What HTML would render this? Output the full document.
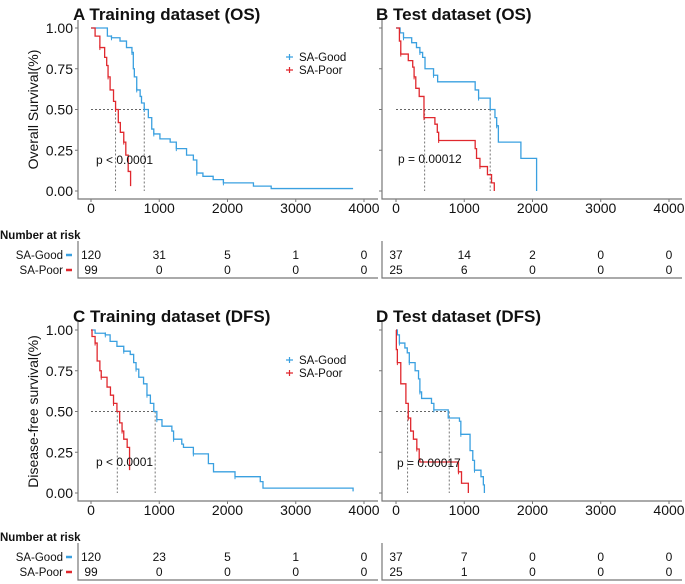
<!DOCTYPE html>
<html><head><meta charset="utf-8"><style>
html,body{margin:0;padding:0;background:#fff;}
svg{display:block;font-family:"Liberation Sans",Arial,sans-serif;}
</style></head><body>
<svg id="c" width="685" height="584" viewBox="0 0 685 584" xmlns="http://www.w3.org/2000/svg"></svg>
<script>
// ---- data ----
const xTicks = [0, 1000, 2000, 3000, 4000];
const yTicks = [0, 0.25, 0.5, 0.75, 1];
const yTickLabels = ["0.00", "0.25", "0.50", "0.75", "1.00"];
const groups = ["SA-Good", "SA-Poor"];
// Panel A (Training OS)
const aGoodT = [0,240,300,425,520,600,620,635,670,720,740,780,840,890,920,1010,1160,1250,1400,1500,1550,1640,1790,1940,2380,2640,3840];
const aGoodS = [1,0.95,0.94,0.92,0.88,0.85,0.75,0.70,0.62,0.58,0.54,0.50,0.45,0.38,0.35,0.32,0.30,0.26,0.22,0.19,0.11,0.09,0.07,0.05,0.03,0.015,0.015];
const aPoorT = [0,60,130,200,230,250,280,330,360,400,430,480,510,545,580];
const aPoorS = [1,0.95,0.88,0.82,0.77,0.70,0.62,0.55,0.50,0.42,0.36,0.30,0.22,0.12,0.03];
// Panel B (Test OS)
const bGoodT = [0,60,110,230,300,350,390,425,550,610,1160,1210,1380,1450,1475,1500,1830,2060];
const bGoodS = [1,0.97,0.94,0.91,0.88,0.85,0.82,0.75,0.71,0.67,0.62,0.57,0.50,0.45,0.40,0.30,0.20,0];
const bPoorT = [0,50,70,180,245,265,290,340,410,570,605,625,1160,1180,1230,1340,1400,1440];
const bPoorS = [1,0.92,0.84,0.80,0.76,0.70,0.63,0.58,0.45,0.41,0.36,0.31,0.26,0.20,0.15,0.10,0.05,0];
// Panel C (Training DFS)
const cGoodT = [0,60,210,280,380,480,575,625,660,700,770,820,870,920,965,1040,1185,1210,1330,1355,1500,1720,1795,2110,2480,2520,3840];
const cGoodS = [1,0.98,0.97,0.93,0.90,0.87,0.85,0.80,0.76,0.71,0.67,0.60,0.55,0.50,0.45,0.41,0.38,0.33,0.30,0.28,0.24,0.18,0.13,0.10,0.07,0.03,0.01];
const cPoorT = [0,15,60,90,130,150,235,285,330,380,420,455,480,530,565];
const cPoorS = [1,0.96,0.92,0.81,0.75,0.71,0.65,0.60,0.55,0.50,0.43,0.38,0.33,0.28,0.14];
// Panel D (Test DFS)
const dGoodT = [0,20,50,130,165,195,280,330,350,375,520,555,765,930,950,1085,1125,1150,1245,1280,1295];
const dGoodS = [1,0.97,0.92,0.89,0.86,0.80,0.75,0.70,0.62,0.58,0.55,0.51,0.46,0.44,0.36,0.26,0.20,0.14,0.10,0.05,0];
const dPoorT = [0,5,20,70,145,180,215,255,305,340,350,915,960,1060];
const dPoorS = [1,0.88,0.80,0.67,0.55,0.46,0.38,0.33,0.27,0.21,0.19,0.13,0.06,0];
const riskA = [[120,31,5,1,0],[99,0,0,0,0]];
const riskB = [[37,14,2,0,0],[25,6,0,0,0]];
const riskC = [[120,23,5,1,0],[99,0,0,0,0]];
const riskD = [[37,7,0,0,0],[25,1,0,0,0]];
const medA = [780,360], medB = [1380,420], medC = [940,385], medD = [780,170];

const NS = "http://www.w3.org/2000/svg";
const svg = document.getElementById('c');
function el(tag, attrs, parent, text){
  const e = document.createElementNS(NS, tag);
  for (const k in attrs) e.setAttribute(k, attrs[k]);
  if (text !== undefined) e.textContent = text;
  (parent||svg).appendChild(e);
  return e;
}
const BLUE = "#3aa0e0", RED = "#e0282e";

function panel(o){
  const g = el('g', {});
  
  
  const x = t => o.x0 + t/4000*(o.x1 - o.x0);
  const y = s => o.y0 - s*(o.y0 - o.y1);
  // title
  const t = el('text', {x:o.titleX, y:o.y1-8, 'font-size':17, 'font-weight':'bold', fill:'#111'}, g, o.title);
  
  
  // axes
  const ax = el('path', {d:`M${o.axL},${o.y1-8}V${o.axB}H${o.axL+300}`, stroke:'#777', 'stroke-width':1.2, fill:'none'}, g);
  
  
  yTicks.forEach((v,i)=>{
    el('line', {x1:o.axL-3, x2:o.axL, y1:y(v), y2:y(v), stroke:'#777'}, g);
    if (o.yLabels){
      const l = el('text', {x:o.axL-5, y:y(v)+5, 'text-anchor':'end', 'font-size':14, fill:'#111'}, g, yTickLabels[i]);
      
      
    }
  });
  xTicks.forEach(v=>{
    el('line', {x1:x(v), x2:x(v), y1:o.axB, y2:o.axB+3, stroke:'#777'}, g);
    const l = el('text', {x:x(v), y:o.axB+14, 'text-anchor':'middle', 'font-size':14, fill:'#111'}, g, String(v));
    
    
  });
  if (o.yTitle){
    const yt = el('text', {x:0, y:0, transform:`translate(${o.axL-40},${(o.y0+o.y1)/2}) rotate(-90)`, 'text-anchor':'middle', 'font-size':14, fill:'#111'}, g, o.yTitle);
    
    
  }
  // median lines
  const ym = y(0.5);
  const mx = Math.max(o.med[0], o.med[1]);
  el('path', {d:`M${x(0)},${ym}H${x(mx)}M${x(o.med[0])},${ym}V${y(0)}M${x(o.med[1])},${ym}V${y(0)}`, stroke:'#666', 'stroke-dasharray':'2,2', 'stroke-width':0.9, fill:'none'}, g);
  // curves
  [[o.gT,o.gS,BLUE,'curve-sa-good'],[o.pT,o.pS,RED,'curve-sa-poor']].forEach(([T,S,c,n])=>{
    let d = `M${x(T[0])},${y(S[0])}`;
    for (let i=1;i<T.length;i++){ d += `H${x(T[i])}V${y(S[i])}`; }
    const p = el('path', {d, stroke:c, 'stroke-width':1.3, fill:'none'}, g);
    
    
    // censor ticks at a few steps
    for (let i=2;i<T.length-1;i+=3){
      el('path', {d:`M${x(T[i])},${y(S[i])-2.5}v5`, stroke:c, 'stroke-width':1}, g);
    }
  });
  // p value
  const pv = el('text', {x:o.pX, y:o.pY, 'font-size':12, fill:'#111'}, g, o.p);
  
  
  // legend
  if (o.legendY){
    groups.forEach((gname,i)=>{
      const c = i===0?BLUE:RED;
      const ly = o.legendY + i*13;
      el('path', {d:`M286,${ly}h7M289.5,${ly-3}v6`, stroke:c, 'stroke-width':1.2}, g);
      const lt = el('text', {x:299, y:ly+4, 'font-size':11.5, fill:'#111'}, g, gname);
      
      
    });
  }
  // risk table
  const tb = el('path', {d:`M${o.axL},${o.rY-14}V${o.rY+23}H${o.axL+300}`, stroke:'#777', 'stroke-width':1.2, fill:'none'}, g);
  
  if (o.riskHeader){
    const h = el('text', {x:0, y:o.rY-16, 'font-size':11.5, 'font-weight':'bold', fill:'#111'}, g, 'Number at risk');
    
    
    groups.forEach((gname,i)=>{
      const ry = o.rY + i*15;
      const lt = el('text', {x:63, y:ry+4, 'text-anchor':'end', 'font-size':11.5, fill:'#111'}, g, gname);
      
      
      el('line', {x1:66, x2:72, y1:ry, y2:ry, stroke:i===0?BLUE:RED, 'stroke-width':2.5}, g);
    });
  }
  o.risk.forEach((row,i)=>{
    row.forEach((v,j)=>{
      const rt = el('text', {x:x(xTicks[j]), y:o.rY+i*15+4, 'text-anchor':'middle', 'font-size':12, fill:'#111'}, g, String(v));
      
      
    });
  });
}

panel({name:'panel-a-training-os', title:'A Training dataset (OS)', titleX:73, x0:91, x1:364, y1:28, y0:191, axL:78, axB:199,
  yLabels:true, yTitle:'Overall Survival(%)', gT:aGoodT, gS:aGoodS, pT:aPoorT, pS:aPoorS, med:medA,
  p:'p < 0.0001', pX:96, pY:164, legendY:57, risk:riskA, rY:255, riskHeader:true});
panel({name:'panel-b-test-os', title:'B Test dataset (OS)', titleX:376, x0:396, x1:669, y1:28, y0:191, axL:382, axB:199,
  yLabels:false, gT:bGoodT, gS:bGoodS, pT:bPoorT, pS:bPoorS, med:medB,
  p:'p = 0.00012', pX:398, pY:163, risk:riskB, rY:255});
panel({name:'panel-c-training-dfs', title:'C Training dataset (DFS)', titleX:73, x0:91, x1:364, y1:330, y0:493, axL:78, axB:501,
  yLabels:true, yTitle:'Disease-free survival(%)', gT:cGoodT, gS:cGoodS, pT:cPoorT, pS:cPoorS, med:medC,
  p:'p < 0.0001', pX:96, pY:466, legendY:360, risk:riskC, rY:557, riskHeader:true});
panel({name:'panel-d-test-dfs', title:'D Test dataset (DFS)', titleX:376, x0:396, x1:669, y1:330, y0:493, axL:382, axB:501,
  yLabels:false, gT:dGoodT, gS:dGoodS, pT:dPoorT, pS:dPoorS, med:medD,
  p:'p = 0.00017', pX:397, pY:467, risk:riskD, rY:557});
</script>
</body></html>
